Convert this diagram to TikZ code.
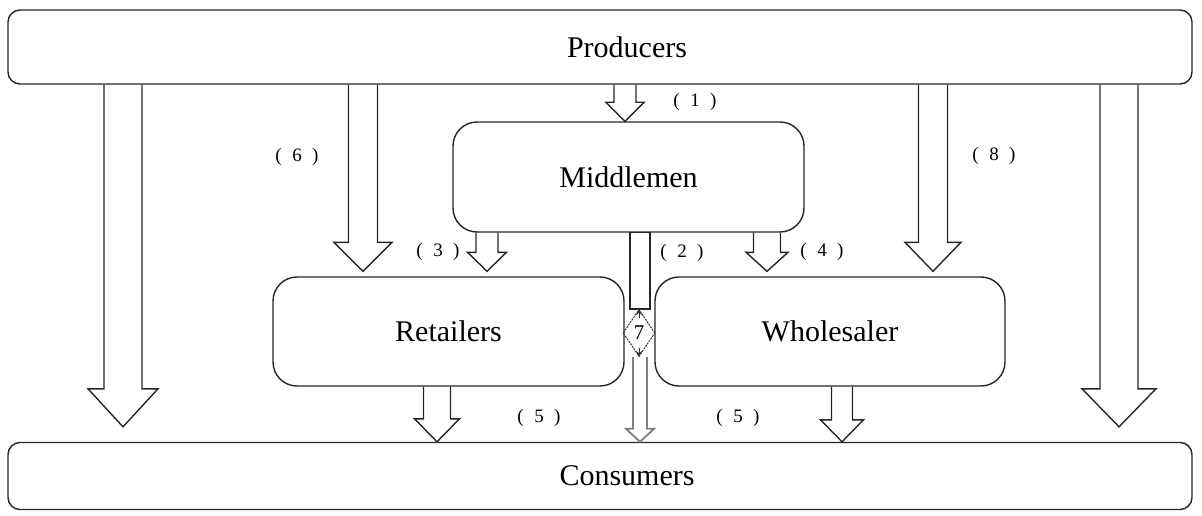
\documentclass[tikz,border=0pt]{standalone}
\usepackage{fontspec}
\setmainfont{Liberation Serif}
\usetikzlibrary{calc,shapes.geometric,arrows.meta}

% block arrow: [style] {x centre}{source anchor}{tip point}{shaft half}{head half}{head length}
\newcommand\blockarrow[7][]{%
  \draw[blkarrow,#1] let \p1=(#3), \p2=(#4) in
    (#2pt-#5pt,\y1) -- (#2pt-#5pt,\y2+#7pt) -- (#2pt-#6pt,\y2+#7pt) --
    (#2pt,\y2) -- (#2pt+#6pt,\y2+#7pt) -- (#2pt+#5pt,\y2+#7pt) -- (#2pt+#5pt,\y1);
}
\newcommand\flowtag[1]{(\hspace{0.55em}#1\hspace{0.55em})}

\begin{document}
\begin{tikzpicture}[x=1pt,y=-1pt,
  ink/.style={draw=black!85,line width=1.4pt},
  title/.style={font=\fontsize{30}{33}\selectfont,inner sep=0pt},
  wide/.style={ink,rounded corners=12pt,inner sep=0pt},
  unit/.style={ink,rounded corners=24pt,font=\fontsize{30}{33}\selectfont,inner sep=0pt},
  blkarrow/.style={ink,line join=miter},
  tag/.style={font=\fontsize{19}{21}\selectfont,inner sep=0pt}]
\useasboundingbox (0,0) rectangle (1202,516);

% tiers
\node[wide,minimum width=1184pt,minimum height=74pt] (prod) at (600,47) {};
\node[title] (prodtxt) at (627,47) {Producers};
\node[wide,minimum width=1184pt,minimum height=67pt] (cons) at (600,476) {};
\node[title] (constxt) at (627,476) {Consumers};
\node[unit,minimum width=351pt,minimum height=110pt] (mid) at (628.5,177) {Middlemen};
\node[unit,minimum width=351pt,minimum height=109pt] (ret) at (448.5,331.5) {Retailers};
\node[unit,minimum width=350pt,minimum height=109pt] (whole) at (830,331.5) {Wholesaler};

% channel 7 junction
\node[diamond,draw=black!80,line width=1pt,dash pattern=on 2pt off 1pt,
  minimum width=32pt,minimum height=47pt,inner sep=0pt,
  font=\fontsize{21}{23}\selectfont] (dia) at (639,333) {7};
\draw[black!80,line width=1pt,-{Stealth[length=6pt,width=6pt]}] ($(dia.north)+(0,9)$) -- (dia.north);
\draw[black!80,line width=1pt,-{Stealth[length=6pt,width=6pt]}] ($(dia.south)+(0,-9)$) -- (dia.south);

% direct and indirect channels
\blockarrow{123}{prod.south}{$(cons.north)+(0,-15)$}{19}{35}{38}
\blockarrow{1119}{prod.south}{$(cons.north)+(0,-15)$}{19}{37}{38}
\blockarrow{363}{prod.south}{$(ret.north)+(0,-5)$}{14.5}{29}{29}
\blockarrow{933}{prod.south}{$(whole.north)+(0,-5)$}{14.5}{28}{29}
\blockarrow{625}{prod.south}{mid.north}{11}{19}{19}
\blockarrow{487}{mid.south}{$(ret.north)+(0,-5)$}{11}{19.5}{19}
\blockarrow{767}{mid.south}{$(whole.north)+(0,-5)$}{13.5}{21}{19}
\blockarrow{437}{ret.south}{cons.north}{13.5}{22.5}{23}
\blockarrow{842}{whole.south}{cons.north}{10.5}{21.5}{22}
\blockarrow[draw=black!50,line width=1.8pt]{640}{dia.south}{cons.north}{7}{14}{13}
\draw[ink] let \p1=(mid.south), \p2=(dia.north) in (630pt,\y1) rectangle (650pt,\y2);

% channel numbers
\node[tag] (t1) at (695,102) {\flowtag{1}};
\node[tag] (t6) at (297,157) {\flowtag{6}};
\node[tag] (t8) at (994,156) {\flowtag{8}};
\node[tag] (t3) at (438,252) {\flowtag{3}};
\node[tag] (t2) at (682,253) {\flowtag{2}};
\node[tag] (t4) at (822,252) {\flowtag{4}};
\node[tag] (t5a) at (539,418) {\flowtag{5}};
\node[tag] (t5b) at (738,418) {\flowtag{5}};
\end{tikzpicture}
\end{document}
